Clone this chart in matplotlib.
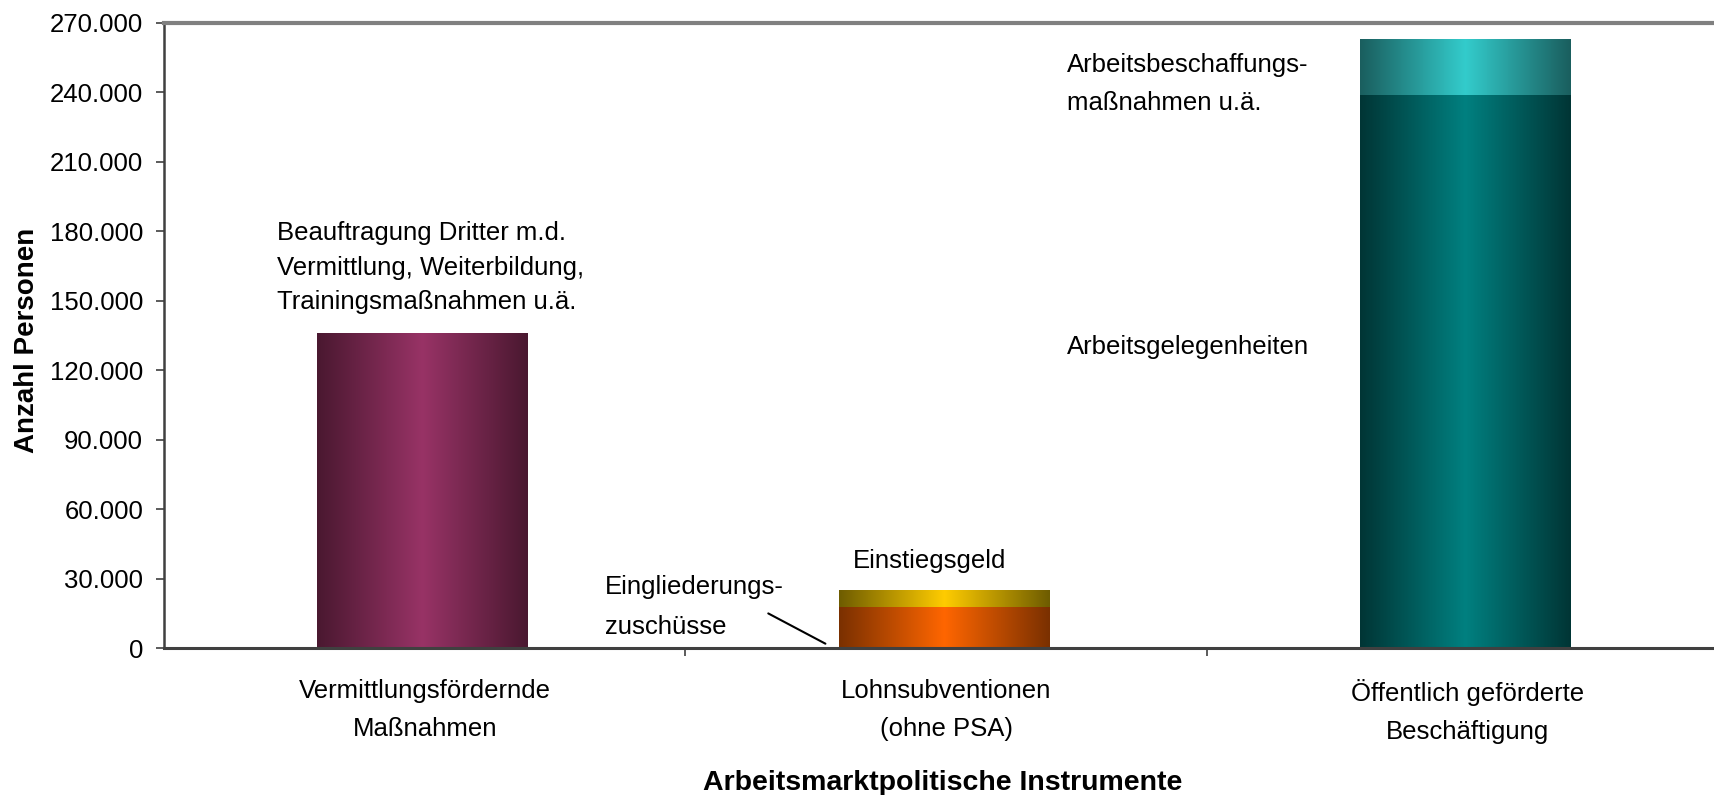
import numpy as np
import matplotlib
matplotlib.use("Agg")
import matplotlib.pyplot as plt
from matplotlib.colors import LinearSegmentedColormap
from matplotlib.ticker import FuncFormatter, FixedLocator

plt.rcParams["font.family"] = ["Liberation Sans", "DejaVu Sans"]

# Daten
kategorien = ["Vermittlungsfördernde\nMaßnahmen", "Lohnsubventionen\n(ohne PSA)",
              "Öffentlich geförderte\nBeschäftigung"]
unten = [136000, 17800, 239000]
oben = [0, 7200, 24000]

# Farbverläufe (Rand, Mitte)
farben_unten = [("#4a1830", "#983366"), ("#7a3000", "#ff6600"), ("#003535", "#008080")]
farben_oben = [None, ("#6e5c00", "#ffcc00"), ("#1a5e5e", "#33cccc")]

fig = plt.figure(figsize=(17.15, 7.95), dpi=100)
ax = fig.add_axes([164 / 1715, (795 - 648) / 795, 1564.5 / 1715, 625 / 795])

x = np.arange(len(kategorien))
breite = 0.403
versatz = -0.005  # Balken minimal links von der Kategoriemitte


def verlauf(patch, rand, mitte):
    cmap = LinearSegmentedColormap.from_list("v", [rand, mitte, rand])
    x0, y0 = patch.get_x(), patch.get_y()
    x1, y1 = x0 + patch.get_width(), y0 + patch.get_height()
    grad = np.linspace(0, 1, 256).reshape(1, -1)
    ax.imshow(grad, cmap=cmap, extent=(x0, x1, y0, y1), aspect="auto",
              interpolation="bicubic", zorder=2)


bars_u = ax.bar(x + versatz, unten, width=breite, color="none", edgecolor="none")
bars_o = ax.bar(x + versatz, oben, width=breite, bottom=unten, color="none", edgecolor="none")
for i, p in enumerate(bars_u):
    verlauf(p, *farben_unten[i])
for i, p in enumerate(bars_o):
    if farben_oben[i] is not None and oben[i] > 0:
        verlauf(p, *farben_oben[i])

ax.set_xlim(-0.5, 2.5)
ax.set_ylim(0, 270000)
ax.set_yticks(np.arange(0, 270001, 30000))
ax.yaxis.set_major_formatter(FuncFormatter(lambda v, p: f"{int(v):,}".replace(",", ".")))
ax.tick_params(axis="y", labelsize=18.5, length=6, width=1.2, pad=9, color="#404040")

# x-Achse: Striche zwischen den Kategorien, Beschriftung in der Mitte
ax.xaxis.set_major_locator(FixedLocator([0.5, 1.5]))
ax.xaxis.set_major_formatter(FuncFormatter(lambda v, p: ""))
ax.xaxis.set_minor_locator(FixedLocator(x))
ax.set_xticklabels(kategorien, minor=True, fontsize=18.5, linespacing=1.75)
ax.tick_params(axis="x", which="major", length=6, width=1.2, color="#404040")
ax.tick_params(axis="x", which="minor", length=0, pad=22)

ax.spines["right"].set_visible(False)
ax.spines["top"].set_color("#808080")
ax.spines["top"].set_linewidth(3)
ax.spines["left"].set_color("#404040")
ax.spines["left"].set_linewidth(1.8)
ax.spines["bottom"].set_color("#404040")
ax.spines["bottom"].set_linewidth(2.2)

# Beschriftungen in der Grafik
fs = 18.5
ax.text(-0.283, 164300, "Beauftragung Dritter m.d.\nVermittlung, Weiterbildung,\nTrainingsmaßnahmen u.ä.",
        fontsize=fs, va="center", ha="left", linespacing=1.55)
ax.text(0.346, 17600, "Eingliederungs-\nzuschüsse", fontsize=fs, va="center", ha="left",
        linespacing=1.85)
ax.annotate("", xy=(0.773, 1300), xytext=(0.654, 15500),
            arrowprops=dict(arrowstyle="-", color="black", lw=1.5))
ax.text(0.821, 37600, "Einstiegsgeld", fontsize=fs, va="center", ha="left")
ax.text(1.232, 243600, "Arbeitsbeschaffungs-\nmaßnahmen u.ä.", fontsize=fs, va="center",
        ha="left", linespacing=1.7)
ax.text(1.232, 130000, "Arbeitsgelegenheiten", fontsize=fs, va="center", ha="left")

fig.text(27 / 1715, (795 - 340) / 795, "Anzahl Personen", rotation=90, fontsize=20,
         fontweight="bold", ha="center", va="center")
fig.text(943 / 1715, (795 - 783) / 795, "Arbeitsmarktpolitische Instrumente", fontsize=20.5,
         fontweight="bold", ha="center", va="center")

fig.savefig("out.png", dpi=100)
